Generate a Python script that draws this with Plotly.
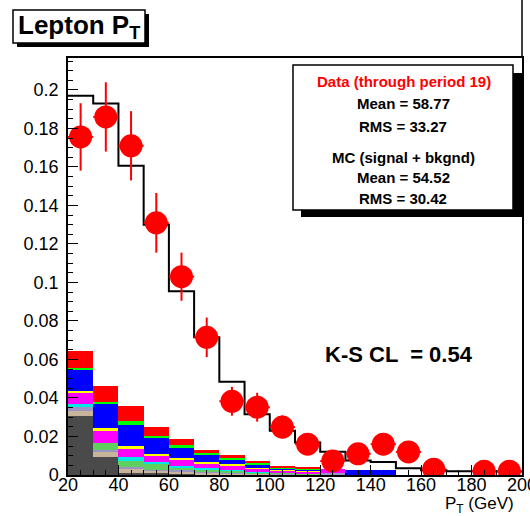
import plotly.graph_objects as go

# ---------------- data ----------------
bin_lo = [20, 30, 40, 50, 60, 70, 80, 90, 100, 110, 120, 130, 140, 150, 160, 170, 180, 190]
bin_centers = [b + 5 for b in bin_lo]
bin_edges = bin_lo + [200]

# MC (signal + bkgnd) normalised histogram (black outline)
mc_total = [0.197, 0.193, 0.1606, 0.130, 0.0955, 0.0715, 0.0484, 0.0316, 0.023, 0.0169,
            0.0121, 0.0075, 0.0067, 0.0035, 0.0025, 0.0020, 0.0020, 0.0018]

# Data (through period 19)
data_vals = [0.1756, 0.186, 0.171, 0.131, 0.103, 0.0715, 0.0383, 0.0352, 0.0249, 0.016,
             0.0073, 0.011, 0.016, 0.012, 0.003, None, 0.002, 0.002]
data_errs = [0.0175, 0.018, 0.018, 0.0155, 0.0125, 0.0103, 0.0075, 0.0075, 0.006, 0.005,
             0.0035, 0.0045, 0.005, 0.0045, 0.0025, None, 0.002, 0.002]

# stacked background components (bottom -> top)
comp_dark = [0.0307, 0.0093, 0.0012, 0.0008, 0.0005, 0.0003, 0.0002, 0, 0, 0, 0, 0, 0, 0, 0, 0, 0, 0]
comp_tan = [0.0027, 0.0030, 0.0020, 0.0014, 0.0015, 0.0010, 0.0008, 0.0006, 0.0004, 0.0003, 0, 0, 0, 0, 0, 0, 0, 0]
comp_violet = [0.0017, 0.0008, 0.0008, 0.0004, 0.0004, 0.0003, 0.0002, 0.0002, 0.0002, 0.0002, 0.0010, 0, 0, 0, 0, 0, 0, 0]
comp_lgreen = [0, 0.0035, 0.0035, 0.0034, 0.0016, 0.0012, 0.0010, 0.0006, 0.0004, 0.0002, 0, 0, 0, 0, 0, 0, 0, 0]
comp_cyan = [0.0017, 0, 0.0016, 0.0006, 0.0008, 0.0007, 0.0006, 0.0004, 0, 0, 0, 0, 0, 0, 0, 0, 0, 0]
comp_magenta = [0.0061, 0.0064, 0.0044, 0.0034, 0.0030, 0.0025, 0.0020, 0.0015, 0.0012, 0.0013, 0.0020, 0, 0, 0, 0, 0, 0, 0]
comp_yellow = [0.0008, 0.0012, 0.0017, 0.0009, 0.0012, 0.0010, 0.0008, 0.0005, 0.0004, 0.0003, 0, 0, 0, 0, 0, 0, 0, 0]
comp_blue = [0.0107, 0.0126, 0.0107, 0.0083, 0.0055, 0.0035, 0.0026, 0.0018, 0.0010, 0.0008, 0, 0.0024, 0.0024, 0, 0, 0, 0, 0]
comp_green = [0.0011, 0.0012, 0.0019, 0.0012, 0.0010, 0.0007, 0.0006, 0.0004, 0.0004, 0.0003, 0, 0, 0, 0, 0, 0, 0, 0]
comp_red = [0.0089, 0.0083, 0.0078, 0.0046, 0.0030, 0.0016, 0.0017, 0.0014, 0.0008, 0.0006, 0, 0, 0, 0, 0, 0, 0, 0]

x_tick_vals = [20, 40, 60, 80, 100, 120, 140, 160, 180, 200]
x_tick_text = ["20", "40", "60", "80", "100", "120", "140", "160", "180", "200"]
y_tick_vals = [0, 0.02, 0.04, 0.06, 0.08, 0.1, 0.12, 0.14, 0.16, 0.18, 0.2]
y_tick_text = ["0", "0.02", "0.04", "0.06", "0.08", "0.1", "0.12", "0.14", "0.16", "0.18", "0.2"]

title_text = "Lepton P<sub>T</sub>"
stats_data_title = "Data (through period 19)"
stats_data_lines = ["Mean = 58.77", "RMS = 33.27"]
stats_mc_title = "MC (signal + bkgnd)"
stats_mc_lines = ["Mean = 54.52", "RMS = 30.42"]
ks_text = "K-S CL  = 0.54"
xaxis_title = "P<sub>T</sub> (GeV)"

# ---------------- layout geometry (pixels) ----------------
W, H = 530, 516
L, R, T, B = 68, 8, 58, 41
PW, PH = W - L - R, H - T - B


def px(x):
    return (x - L) / PW


def py(y):
    return (H - B - y) / PH


FONT = "Liberation Sans, Arial, Helvetica, sans-serif"

fig = go.Figure()

components = [
    (comp_dark, "#4a4a4a"),
    (comp_tan, "#c8b49a"),
    (comp_violet, "#9c94c4"),
    (comp_lgreen, "#5fcf5f"),
    (comp_cyan, "#00e8e8"),
    (comp_magenta, "#ff00ff"),
    (comp_yellow, "#ffff00"),
    (comp_blue, "#0000ff"),
    (comp_green, "#00ff00"),
    (comp_red, "#ff0000"),
]
for vals, col in components:
    fig.add_trace(go.Bar(x=bin_centers, y=vals, width=10, marker=dict(color=col, line=dict(width=0)),
                         showlegend=False, hoverinfo="skip"))

fig.add_trace(go.Scatter(x=bin_edges, y=mc_total + [mc_total[-1]], mode="lines",
                         line=dict(color="black", width=2, shape="hv"), showlegend=False))

fig.add_trace(go.Scatter(
    x=bin_centers, y=data_vals, mode="markers",
    marker=dict(color="#ff0000", size=23, symbol="circle", line=dict(width=0)),
    error_y=dict(type="data", array=data_errs, color="#ff0000", thickness=2, width=0),
    error_x=dict(type="constant", value=5, color="#ff0000", thickness=2, width=0),
    showlegend=False))

shapes = []
# title box with shadow
shapes.append(dict(type="rect", xref="paper", yref="paper", x0=px(17), x1=px(149), y0=py(47), y1=py(14),
                   fillcolor="black", line=dict(width=0)))
shapes.append(dict(type="rect", xref="paper", yref="paper", x0=px(13), x1=px(145), y0=py(43), y1=py(10),
                   fillcolor="white", line=dict(color="black", width=1.5)))
# stats box with shadow
shapes.append(dict(type="rect", xref="paper", yref="paper", x0=px(301), x1=px(522), y0=py(217), y1=py(73),
                   fillcolor="black", line=dict(width=0)))
shapes.append(dict(type="rect", xref="paper", yref="paper", x0=px(293), x1=px(513), y0=py(210), y1=py(65),
                   fillcolor="white", line=dict(color="black", width=1.5)))
# top-right vertical line
shapes.append(dict(type="line", xref="paper", yref="paper", x0=px(522), x1=px(522), y0=py(58), y1=py(0),
                   line=dict(color="black", width=1.5)))

annotations = []
annotations.append(dict(text="<b>" + title_text + "</b>", x=px(79), y=py(26), xref="paper", yref="paper",
                        showarrow=False, xanchor="center", yanchor="middle",
                        font=dict(family=FONT, size=26, color="black")))
annotations.append(dict(text="<b>" + stats_data_title + "</b>", x=px(404), y=py(81), xref="paper", yref="paper",
                        showarrow=False, xanchor="center", yanchor="middle",
                        font=dict(family=FONT, size=15, color="#ff0000")))
for i, s in enumerate(stats_data_lines):
    annotations.append(dict(text="<b>" + s + "</b>", x=px(403), y=py(103 + 24 * i), xref="paper", yref="paper",
                            showarrow=False, xanchor="center", yanchor="middle",
                            font=dict(family=FONT, size=15, color="black")))
annotations.append(dict(text="<b>" + stats_mc_title + "</b>", x=px(403), y=py(157), xref="paper", yref="paper",
                        showarrow=False, xanchor="center", yanchor="middle",
                        font=dict(family=FONT, size=15, color="black")))
for i, s in enumerate(stats_mc_lines):
    annotations.append(dict(text="<b>" + s + "</b>", x=px(403), y=py(177 + 21 * i), xref="paper", yref="paper",
                            showarrow=False, xanchor="center", yanchor="middle",
                            font=dict(family=FONT, size=15, color="black")))
annotations.append(dict(text="<b>" + ks_text + "</b>", x=px(399), y=py(354), xref="paper", yref="paper",
                        showarrow=False, xanchor="center", yanchor="middle",
                        font=dict(family=FONT, size=22, color="black")))
annotations.append(dict(text=xaxis_title, x=px(516), y=py(505), xref="paper", yref="paper",
                        showarrow=False, xanchor="right", yanchor="middle",
                        font=dict(family=FONT, size=17, color="black")))

fig.update_layout(
    width=W, height=H,
    margin=dict(l=L, r=R, t=T, b=B, pad=0, autoexpand=False),
    paper_bgcolor="white", plot_bgcolor="white",
    barmode="stack", bargap=0,
    showlegend=False,
    shapes=shapes, annotations=annotations,
    font=dict(family=FONT, size=18, color="black"),
    xaxis=dict(range=[20, 200], tickvals=x_tick_vals, ticktext=x_tick_text,
               ticks="inside", ticklen=10, tickwidth=1, tickcolor="black",
               minor=dict(dtick=5, tick0=20, ticks="inside", ticklen=5, tickcolor="black", tickwidth=1),
               showline=True, linecolor="black", linewidth=1.5, mirror=True,
               showgrid=False, zeroline=False, tickfont=dict(size=18), automargin=False,
               ticklabelstandoff=-7, ticklabeloverflow="allow"),
    yaxis=dict(range=[0, 0.2166], tickvals=y_tick_vals, ticktext=y_tick_text,
               ticks="inside", ticklen=10, tickwidth=1, tickcolor="black",
               minor=dict(dtick=0.005, tick0=0, ticks="inside", ticklen=5, tickcolor="black", tickwidth=1),
               showline=True, linecolor="black", linewidth=1.5, mirror=True, automargin=False,
               showgrid=False, zeroline=False, tickfont=dict(size=18), ticklabelstandoff=4),
)

fig.write_html("out.html")
